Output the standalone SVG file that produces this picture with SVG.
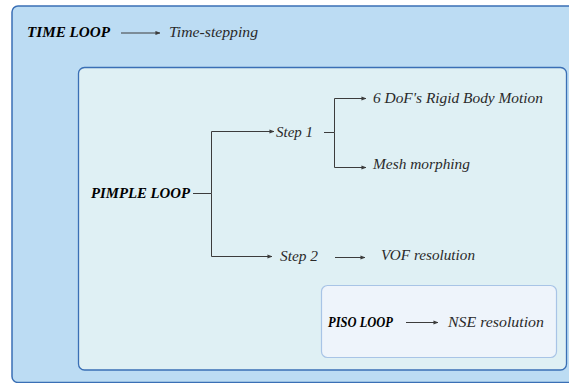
<svg xmlns="http://www.w3.org/2000/svg" width="569" height="383" viewBox="0 0 569 383">
<style>
.t{font-family:'Liberation Serif','DejaVu Serif',serif;font-style:italic;font-size:15px;fill:#2a2a2a}
.b{font-family:'Liberation Serif','DejaVu Serif',serif;font-style:italic;font-weight:bold;font-size:15px;fill:#000}
.c{fill:none;stroke:#3c3c3c;stroke-width:1}
</style>
<defs>
<marker id="ah" viewBox="0 0 6 6" refX="5.5" refY="3" markerWidth="5" markerHeight="5" orient="auto" markerUnits="userSpaceOnUse">
<path d="M0,0.5 L6,3 L0,5.5 Z" fill="#3c3c3c"/>
</marker>
</defs>
<g id="time-loop">
<rect x="12" y="6" width="580" height="376.5" rx="6" fill="#bcdcf3" stroke="#3a6fb5" stroke-width="1.5"/>
<text class="b" x="27" y="37" textLength="83" lengthAdjust="spacingAndGlyphs">TIME LOOP</text>
<text class="t" x="169" y="37" textLength="89" lengthAdjust="spacingAndGlyphs">Time-stepping</text>
</g>
<g id="pimple-loop">
<rect x="78.5" y="67.5" width="488" height="302.5" rx="6" fill="#dff0f4" stroke="#3a6fb5" stroke-width="1.3"/>
<text class="b" x="91" y="198" textLength="99" lengthAdjust="spacingAndGlyphs">PIMPLE LOOP</text>
</g>
<g id="step1">
<text class="t" x="276" y="137" textLength="37" lengthAdjust="spacingAndGlyphs">Step 1</text>
</g>
<g id="rigid-body">
<text class="t" x="373" y="103" textLength="170" lengthAdjust="spacingAndGlyphs">6 DoF's Rigid Body Motion</text>
</g>
<g id="mesh-morphing">
<text class="t" x="373" y="169" textLength="97" lengthAdjust="spacingAndGlyphs">Mesh morphing</text>
</g>
<g id="step2">
<text class="t" x="280" y="261" textLength="38" lengthAdjust="spacingAndGlyphs">Step 2</text>
</g>
<g id="vof">
<text class="t" x="381" y="260" textLength="94" lengthAdjust="spacingAndGlyphs">VOF resolution</text>
</g>
<g id="piso-loop">
<rect x="321.5" y="285.5" width="235" height="72" rx="6" fill="#eef4fb" stroke="#a8c4e6" stroke-width="1.2"/>
<text class="b" x="328" y="327" textLength="65" lengthAdjust="spacingAndGlyphs">PISO LOOP</text>
<text class="t" x="448" y="327" textLength="96" lengthAdjust="spacingAndGlyphs">NSE resolution</text>
</g>
<g id="connectors">
<path class="c" d="M121,33 H160" marker-end="url(#ah)"/>
<path class="c" d="M193,193.5 H211.5 V131.5 H274" marker-end="url(#ah)"/>
<path class="c" d="M211.5,193.5 V256.5 H272" marker-end="url(#ah)"/>
<path class="c" d="M324,132.5 H334.5 V98.5 H366" marker-end="url(#ah)"/>
<path class="c" d="M334.5,132.5 V167.5 H366" marker-end="url(#ah)"/>
<path class="c" d="M335,257.5 H365" marker-end="url(#ah)"/>
<path class="c" d="M406,322.5 H438" marker-end="url(#ah)"/>
</g>
</svg>
